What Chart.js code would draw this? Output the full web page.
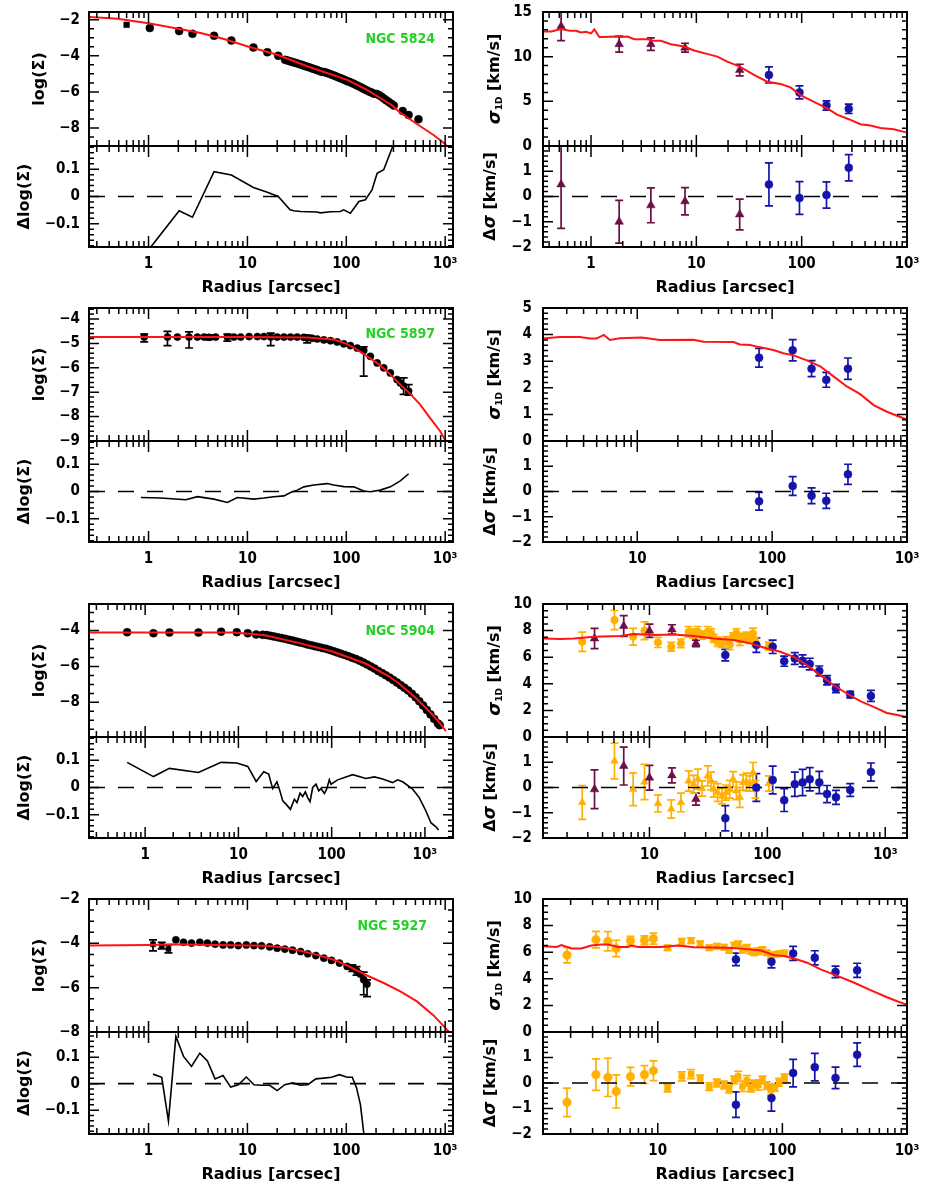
<!DOCTYPE html>
<html>
<head>
<meta charset="utf-8">
<title>Surface density and velocity dispersion profiles</title>
<script src="https://cdn.jsdelivr.net/npm/chart.js@4.4.1/dist/chart.umd.min.js"></script>
<style>
html, body { margin: 0; padding: 0; background: #ffffff; }
#fig { position: relative; width: 926px; height: 1201px; overflow: hidden; background: #ffffff; }
#fig canvas { position: absolute; }
</style>
</head>
<body>
<div id="fig"></div>
<script>
// ===================== DATA =====================
const xTickValues = [1, 10, 100, 1000];
const xTickLabels = ['1', '10', '100', '10\u00B3'];

// ---- NGC 5824 ----
const n5824_prof_r = [0.60,1.03,2.04,2.78,4.60,6.88,11.5,15.9,20.5,24.0,25.4,26.9,28.5,30.2,32.0,33.9,35.9,38.0,40.3,42.7,45.2,47.9,50.7,53.7,56.9,60.3,63.8,67.6,71.6,75.9,80.4,85.1,90.2,95.5,101,107,114,120,127,135,143,151,160,170,180,191,202,214,226,240,254,269,285,302,372,427,537];
const n5824_prof_v = [-2.28,-2.46,-2.63,-2.78,-2.89,-3.15,-3.54,-3.80,-4.00,-4.22,-4.26,-4.30,-4.34,-4.38,-4.42,-4.47,-4.51,-4.56,-4.60,-4.65,-4.70,-4.74,-4.79,-4.84,-4.89,-4.90,-4.95,-5.00,-5.05,-5.10,-5.16,-5.22,-5.27,-5.33,-5.39,-5.44,-5.50,-5.56,-5.63,-5.70,-5.77,-5.84,-5.91,-5.98,-6.04,-6.10,-6.11,-6.17,-6.26,-6.37,-6.47,-6.56,-6.66,-6.76,-7.06,-7.28,-7.52];
const n5824_model_r = [0.256,0.486,1.0,1.82,3.37,5.8,10.1,20.0,40.2,102,162,290,339,518,763,1000,1040];
const n5824_model_v = [-1.85,-1.94,-2.19,-2.46,-2.74,-3.07,-3.48,-3.94,-4.58,-5.33,-5.89,-6.74,-7.09,-7.78,-8.39,-8.89,-9.04];
const n5824_res_r = [0.60,1.03,2.04,2.78,4.60,6.88,11.5,15.9,20.5,27,29.5,34.5,50,55,69,87,94,110,134,156,182,205,239,290,320];
const n5824_res_v = [-0.29,-0.19,-0.052,-0.076,0.091,0.079,0.033,0.016,0.0,-0.049,-0.052,-0.055,-0.057,-0.060,-0.056,-0.055,-0.049,-0.061,-0.018,-0.012,0.024,0.085,0.098,0.177,0.25];
const n5824_sigA_r = [0.52,1.85,3.7,7.8,25.8];
const n5824_sigA_v = [13.4,11.4,11.4,11.0,8.5];
const n5824_sigA_e = [1.6,0.9,0.7,0.5,0.65];
const n5824_sigB_r = [48.9,95.3,172,280];
const n5824_sigB_v = [7.95,6.0,4.54,4.16];
const n5824_sigB_e = [0.9,0.73,0.52,0.52];
const n5824_sigmod_r = [0.35,0.418,0.52,0.623,0.721,0.804,0.897,1.0,1.076,1.20,1.34,1.66,1.92,2.22,2.57,3.44,3.98,4.60,5.72,7.66,9.5,13.7,15.8,19.7,25.8,35.3,47.2,63.1,78.5,97.6,121,151,175,217,280,361,449,559,747,1000];
const n5824_sigmod_v = [12.82,12.82,13.09,12.9,12.9,12.71,12.79,12.6,13.05,12.19,12.19,12.26,12.19,12.26,11.96,11.96,11.77,11.77,11.4,11.14,10.69,10.2,10.01,9.45,8.89,7.95,7.2,6.94,6.56,5.7,5.14,4.57,4.2,3.52,3.0,2.44,2.29,2.02,1.87,1.5];
const n5824_dsigA_v = [0.48,-1.0,-0.35,-0.19,-0.71];
const n5824_dsigA_e = [1.74,0.85,0.69,0.54,0.61];
const n5824_dsigB_v = [0.48,-0.06,0.06,1.14];
const n5824_dsigB_e = [0.85,0.65,0.52,0.52];

// ---- NGC 5897 ----
const n5897_prof_r = [0.904,1.555,1.96,2.57,3.12,3.65,4.09,4.78,6.27,7.31,8.55,10.4,12.6,14.7,17.2,20.0,23.4,27.3,31.9,37.2,40.2,45.2,50.8,59.3,69.2,80.7,94.3,110,129,150,175,205,239,279,326,352,380,427];
const n5897_prof_v = [-4.74,-4.74,-4.74,-4.74,-4.74,-4.74,-4.75,-4.74,-4.74,-4.74,-4.74,-4.72,-4.72,-4.72,-4.74,-4.74,-4.74,-4.74,-4.74,-4.75,-4.78,-4.79,-4.82,-4.86,-4.89,-4.94,-5.02,-5.09,-5.19,-5.29,-5.53,-5.80,-6.0,-6.21,-6.48,-6.62,-6.75,-6.96];
const n5897_prof_elo = [0.2,0.35,0,0.45,0,0,0.1,0,0.17,0,0,0,0,0,0.35,0,0,0,0,0,0.2,0,0,0,0,0,0,0,0,1.05,0,0,0,0,0,0,0.34,0.16];
const n5897_prof_ehi = [0.12,0.23,0,0.21,0,0,0.1,0,0.12,0,0,0,0,0,0.16,0,0,0,0,0,0.12,0,0,0,0,0,0,0,0,0.15,0,0,0,0,0,0,0.34,0.27];
const n5897_model_r = [0.25,10,40,74.4,101,128,163,204,258,350,443,557,701,887,1000,1100];
const n5897_model_v = [-4.74,-4.74,-4.76,-4.84,-5.02,-5.25,-5.53,-5.80,-6.14,-6.68,-7.07,-7.50,-8.05,-8.59,-8.96,-9.3];
const n5897_res_r = [0.837,1.33,2.38,3.12,4.6,6.27,7.91,11.6,14.7,18.5,23.4,27.3,31.9,37.2,47,64,74.7,94.3,119,150,175,221,279,352,427];
const n5897_res_v = [-0.022,-0.024,-0.030,-0.019,-0.028,-0.040,-0.022,-0.028,-0.024,-0.019,-0.016,-0.004,0.005,0.017,0.024,0.029,0.024,0.018,0.017,0.002,-0.001,0.005,0.017,0.039,0.065];
const n5897_sigB_r = [80,142,196,252,365];
const n5897_sigB_v = [3.13,3.41,2.72,2.30,2.72];
const n5897_sigB_e = [0.35,0.4,0.3,0.28,0.4];
const n5897_sigmod_r = [1.98,2.67,3.75,4.46,4.99,5.65,6.27,7.43,10.8,14.7,26.1,30.9,51.6,57.8,68.7,80.0,102,121,144,181,227,285,358,450,565,710,843,1000];
const n5897_sigmod_v = [3.85,3.91,3.91,3.85,3.85,3.99,3.80,3.86,3.89,3.80,3.81,3.73,3.72,3.63,3.61,3.53,3.42,3.30,3.22,3.03,2.81,2.43,2.05,1.76,1.35,1.10,0.95,0.81];
const n5897_dsigB_v = [-0.39,0.22,-0.17,-0.37,0.68];
const n5897_dsigB_e = [0.35,0.37,0.31,0.3,0.4];

// ---- NGC 5904 ----
const n5904_prof_r = [0.641,1.228,1.823,3.73,6.52,9.6,12.6,15.5,18.2,20.0,21.9,24.0,26.3,28.8,31.6,34.7,38.0,41.7,45.7,50.1,55.0,60.3,66.1,72.4,79.4,87.1,95.5,105,115,126,138,151,166,182,200,219,240,263,288,316,347,380,417,457,501,550,603,661,724,794,871,955,1047,1148,1259,1380,1440];
const n5904_prof_v = [-4.09,-4.15,-4.11,-4.11,-4.06,-4.09,-4.15,-4.22,-4.24,-4.25,-4.29,-4.33,-4.37,-4.42,-4.46,-4.51,-4.56,-4.61,-4.66,-4.71,-4.77,-4.82,-4.87,-4.92,-4.97,-5.02,-5.08,-5.15,-5.22,-5.29,-5.36,-5.43,-5.51,-5.59,-5.68,-5.78,-5.89,-6.00,-6.12,-6.25,-6.37,-6.49,-6.62,-6.75,-6.89,-7.04,-7.19,-7.34,-7.52,-7.72,-7.94,-8.17,-8.42,-8.67,-8.93,-9.18,-9.27];
const n5904_model_r = [0.25,8.7,14.3,19.8,45.1,102,233,415,531,801,1208,1425,1679];
const n5904_model_v = [-4.11,-4.11,-4.19,-4.28,-4.70,-5.17,-5.85,-6.56,-6.96,-7.76,-8.69,-9.11,-9.61];
const n5904_res_r = [0.641,1.228,1.823,3.73,6.52,9.6,12.6,15.5,18.7,21.1,23.3,25.9,27.5,29.9,32.4,36.1,39.8,42.5,45.8,48.9,52.2,55.3,58.6,62.6,68,72.6,76.9,83.5,88.3,94.4,98.4,116,168,233,287,352,450,509,577,738,869,1025,1159,1312,1400];
const n5904_res_v = [0.092,0.040,0.070,0.055,0.092,0.090,0.077,0.022,0.058,0.049,-0.004,0.021,-0.006,-0.049,-0.061,-0.080,-0.043,-0.055,-0.021,-0.033,-0.016,-0.037,-0.052,0.0,0.012,-0.012,-0.004,-0.022,-0.006,0.028,0.012,0.028,0.047,0.033,0.039,0.031,0.018,0.028,0.021,-0.006,-0.037,-0.086,-0.129,-0.144,-0.156];
const n5904_sigA_r = [3.42,6.05,10,15.5,24.8];
const n5904_sigA_v = [7.41,8.34,7.99,8.09,7.04];
const n5904_sigA_e = [0.76,0.78,0.5,0.35,0.25];
const n5904_sigC_r = [2.69,5.05,7.27,9.08,11.8,15.3,18.5,21.5,23.7,25.7,27.9,31.2,33.3,35.1,37.9,41.3,44.7,48,51.2,54.6,58.3,62.2,66.4,70.8,75.6,79.1,103];
const n5904_sigC_v = [7.16,8.79,7.54,7.99,7.11,6.78,7.04,7.91,7.79,7.91,7.66,7.91,7.80,7.41,7.16,7.04,7.24,6.91,7.54,7.79,7.29,7.49,7.54,7.34,7.79,7.16,6.83];
const n5904_sigC_e = [0.72,0.72,0.63,0.67,0.38,0.33,0.33,0.4,0.35,0.4,0.3,0.4,0.35,0.3,0.35,0.3,0.3,0.35,0.3,0.35,0.4,0.3,0.35,0.3,0.4,0.35,0.3];
const n5904_sigB_r = [44,80.7,111,139,171,199,229,276,321,382,505,756];
const n5904_sigB_v = [6.16,6.91,6.78,5.70,5.90,5.73,5.48,4.97,4.27,3.64,3.19,3.09];
const n5904_sigB_e = [0.43,0.54,0.5,0.38,0.44,0.45,0.44,0.37,0.35,0.31,0.25,0.41];
const n5904_sigmod_r = [1.25,1.76,2.29,3.37,5.68,7.36,10.9,16.1,23.7,35.1,51.9,71.8,99.3,129,167,217,281,365,473,614,796,1033,1177,1528];
const n5904_sigmod_v = [7.41,7.36,7.41,7.54,7.59,7.74,7.66,7.71,7.59,7.41,7.29,7.04,6.66,6.41,6.03,5.40,4.65,3.89,3.27,2.69,2.26,1.81,1.71,1.51];
const n5904_dsigA_v = [-0.07,0.85,0.39,0.48,-0.46];
const n5904_dsigA_e = [0.77,0.75,0.49,0.3,0.24];
const n5904_dsigC_v = [-0.59,1.05,-0.07,0.22,-0.63,-0.85,-0.59,0.26,0.13,0.33,-0.04,0.46,0.26,-0.07,-0.2,-0.35,-0.2,-0.07,0.33,-0.13,-0.39,0.2,0.22,0.16,0.59,-0.07,0.16];
const n5904_dsigC_e = [0.67,0.71,0.65,0.7,0.34,0.36,0.37,0.4,0.35,0.4,0.3,0.4,0.35,0.3,0.35,0.3,0.3,0.35,0.3,0.35,0.4,0.3,0.35,0.3,0.4,0.35,0.3];
const n5904_dsigB_v = [-1.22,0.0,0.3,-0.5,0.13,0.2,0.33,0.2,-0.26,-0.39,-0.1,0.61];
const n5904_dsigB_e = [0.5,0.55,0.55,0.45,0.48,0.52,0.46,0.44,0.34,0.28,0.25,0.36];

// ---- NGC 5927 ----
const n5927_prof_r = [1.11,1.36,1.59,1.89,2.26,2.72,3.30,3.94,4.71,5.67,6.77,8.09,9.75,11.65,13.9,16.8,20.0,23.9,28.6,34.5,40.8,49.2,59.3,70.8,85.3,102,115,127,139,150,162];
const n5927_prof_v = [-4.04,-4.10,-4.25,-3.84,-3.95,-3.99,-3.95,-3.99,-4.04,-4.07,-4.07,-4.10,-4.07,-4.10,-4.11,-4.16,-4.22,-4.26,-4.31,-4.37,-4.47,-4.55,-4.67,-4.77,-4.89,-5.04,-5.12,-5.24,-5.39,-5.64,-5.84];
const n5927_prof_elo = [0.3,0.15,0.18,0,0,0,0,0,0,0,0,0,0,0,0,0,0,0,0,0,0,0,0,0,0,0,0.15,0.19,0,0.68,0.56];
const n5927_prof_ehi = [0.2,0.15,0.18,0,0,0,0,0,0,0,0,0,0,0,0,0,0,0,0,0,0,0,0,0,0,0,0.15,0.19,0,0.34,0.19];
const n5927_model_r = [0.25,1.0,1.82,4.6,15.9,23.4,34.5,50.8,74.8,102,139,162,239,352,518,763,1081,1150];
const n5927_model_v = [-4.10,-4.07,-4.04,-4.07,-4.11,-4.19,-4.34,-4.52,-4.74,-5.0,-5.30,-5.45,-5.79,-6.17,-6.62,-7.25,-7.97,-8.2];
const n5927_res_r = [1.11,1.36,1.59,1.89,2.26,2.72,3.30,3.94,4.71,5.67,6.77,8.09,9.75,11.65,13.9,16.8,20.0,23.9,28.6,34.5,40.8,49.2,59.3,70.8,85.3,102,115,127,139,150,165];
const n5927_res_v = [0.036,0.024,-0.141,0.178,0.103,0.065,0.115,0.086,0.018,0.031,-0.013,-0.004,0.025,-0.004,-0.006,-0.006,-0.026,-0.004,0.003,-0.006,-0.004,0.018,0.021,0.024,0.034,0.024,0.024,-0.016,-0.079,-0.185,-0.35];
const n5927_sigC_r = [1.87,3.19,3.98,4.64,6.04,7.82,9.23,12.0,15.6,18.5,21.9,25.9,29.8,34.1,37.4,41,44.2,47.9,51.9,55.8,59.3,64.3,69.2,75,80.7,86.9,94,104];
const n5927_sigC_v = [5.78,6.95,6.82,6.28,6.87,6.90,7.02,6.33,6.77,6.87,6.63,6.33,6.45,6.38,6.13,6.53,6.58,6.20,6.33,6.08,5.96,6.08,6.20,5.96,5.71,5.83,5.88,5.93];
const n5927_sigC_e = [0.58,0.62,0.72,0.62,0.33,0.33,0.41,0.2,0.25,0.2,0.2,0.2,0.2,0.2,0.2,0.2,0.25,0.25,0.25,0.2,0.2,0.25,0.2,0.2,0.25,0.2,0.2,0.2];
const n5927_sigB_r = [42.4,81.7,122,182,267,398];
const n5927_sigB_v = [5.46,5.29,5.91,5.58,4.52,4.64];
const n5927_sigB_e = [0.47,0.47,0.53,0.53,0.43,0.53];
const n5927_sigmod_r = [1.22,1.54,1.69,2.03,2.44,2.93,3.52,3.98,4.79,5.75,6.12,6.92,10.6,14.5,19.6,36.3,49.3,67.1,85.8,103,124,158,203,276,374,509,692,832,1000];
const n5927_sigmod_v = [6.45,6.40,6.53,6.28,6.28,6.50,6.58,6.58,6.40,6.40,6.50,6.40,6.40,6.50,6.38,6.33,6.25,6.13,5.78,5.71,5.53,5.21,4.71,4.22,3.72,3.15,2.61,2.31,2.06];
const n5927_dsigC_v = [-0.76,0.33,0.22,-0.33,0.25,0.33,0.48,-0.2,0.26,0.35,0.16,-0.14,0.0,-0.08,-0.24,0.12,0.26,-0.13,0.09,-0.2,-0.04,-0.08,0.12,-0.1,-0.28,-0.17,0.03,0.2];
const n5927_dsigC_e = [0.56,0.62,0.75,0.65,0.36,0.35,0.39,0.15,0.18,0.18,0.15,0.15,0.15,0.15,0.15,0.15,0.2,0.2,0.2,0.15,0.15,0.2,0.15,0.15,0.2,0.15,0.15,0.15];
const n5927_dsigB_v = [-0.85,-0.59,0.39,0.62,0.2,1.11];
const n5927_dsigB_e = [0.5,0.51,0.54,0.54,0.42,0.46];

// ===================== STYLE / LAYOUT =====================
const FAM_C = "'DejaVu Sans Condensed', 'DejaVu Sans', sans-serif";
const FAM = "'DejaVu Sans', sans-serif";
const TICK_FONT = {family: FAM_C, size: 15, weight: 'bold'};
const TITLE_FONT = {family: FAM, size: 16, weight: 'bold'};
const C_RED = '#ff1414', C_BLACK = '#000000', C_BLUE = '#1414aa', C_MAROON = '#6b0f46', C_ORANGE = '#ffb000', C_GREEN = '#25d025';

const COLS = [{left: 0, boxL: 89, boxR: 453}, {left: 463, boxL: 543, boxR: 907}];
const ROWS = [{T: 12, D: 146, B: 247}, {T: 308, D: 441, B: 542}, {T: 604, D: 737, B: 838}, {T: 899, D: 1032, B: 1134}];
const PAD = 26, PAD_R = 32, XAXIS_H = 60;

const SIG_TITLE = {x: 32, parts: [
  {text: '\u03C3', font: 'italic bold 18px ' + FAM, dy: 0},
  {text: '1D', font: 'bold 9px ' + FAM, dy: 5},
  {text: ' [km/s]', font: 'bold 16px ' + FAM, dy: 0}]};
const DSIG_TITLE = {x: 28, parts: [
  {text: '\u0394', font: 'bold 16px ' + FAM, dy: 0},
  {text: '\u03C3', font: 'italic bold 17px ' + FAM, dy: 0},
  {text: ' [km/s]', font: 'bold 16px ' + FAM, dy: 0}]};

function pts(r, v) { return r.map((x, i) => ({x: x, y: v[i]})); }
function curve(r, v, color, width, dash) {
  return {data: pts(r, v), showLine: true, borderColor: color, backgroundColor: color, borderWidth: width,
          borderDash: dash || [], pointRadius: 0, pointHoverRadius: 0, fill: false, tension: 0, clip: 1};
}
function marks(r, v, color, style, radius, eLo, eHi) {
  return {data: pts(r, v), showLine: false, pointStyle: style, pointRadius: radius, pointHoverRadius: radius,
          pointBackgroundColor: color, pointBorderColor: color, pointBorderWidth: 0.5,
          backgroundColor: color, borderColor: color, errColor: color,
          errLo: eLo || null, errHi: eHi || eLo || null};
}
function zero(xr) { return curve(xr, [0, 0], '#000000', 1.6, [16, 13]); }
function fmtTick(v) {
  const s = String(Math.round(Math.abs(v) * 1000) / 1000);
  return (v < 0 ? '\u2212' : '') + s;
}

function drawErrorBars(chart) {
  const ctx = chart.ctx, a = chart.chartArea, ys = chart.scales.y;
  ctx.save();
  ctx.beginPath(); ctx.rect(a.left, a.top, a.right - a.left, a.bottom - a.top); ctx.clip();
  chart.data.datasets.forEach((ds, i) => {
    if (!ds.errLo) return;
    const meta = chart.getDatasetMeta(i);
    ctx.strokeStyle = ds.errColor; ctx.lineWidth = 1.7;
    ctx.beginPath();
    meta.data.forEach((el, j) => {
      const lo = ds.errLo[j] || 0, hi = ds.errHi[j] || 0;
      if (!lo && !hi) return;
      const yv = ds.data[j].y, px = el.x;
      const y1 = ys.getPixelForValue(yv + hi), y2 = ys.getPixelForValue(yv - lo);
      ctx.moveTo(px, y1); ctx.lineTo(px, y2);
      ctx.moveTo(px - 4, y1); ctx.lineTo(px + 4, y1);
      ctx.moveTo(px - 4, y2); ctx.lineTo(px + 4, y2);
    });
    ctx.stroke();
  });
  ctx.restore();
}

function drawFrame(chart, p) {
  const ctx = chart.ctx, a = chart.chartArea, xs = chart.scales.x, ys = chart.scales.y;
  ctx.save();
  ctx.strokeStyle = '#000'; ctx.lineWidth = 1.5; ctx.beginPath();
  const e0 = Math.floor(Math.log10(xs.min)), e1 = Math.ceil(Math.log10(xs.max));
  for (let e = e0; e <= e1; e++) {
    for (let k = 1; k <= 9; k++) {
      const v = k * Math.pow(10, e);
      if (v < xs.min || v > xs.max) continue;
      const px = xs.getPixelForValue(v);
      const len = k === 1 ? 11 : 6;
      ctx.moveTo(px, a.top); ctx.lineTo(px, a.top + len);
      ctx.moveTo(px, a.bottom); ctx.lineTo(px, a.bottom - len);
    }
  }
  const n0 = Math.ceil(ys.min / p.yMinor - 1e-6), n1 = Math.floor(ys.max / p.yMinor + 1e-6);
  const ratio = Math.round(p.yMajor / p.yMinor);
  for (let n = n0; n <= n1; n++) {
    const py = ys.getPixelForValue(n * p.yMinor);
    const len = (n % ratio === 0) ? 10 : 5;
    ctx.moveTo(a.left, py); ctx.lineTo(a.left + len, py);
    ctx.moveTo(a.right, py); ctx.lineTo(a.right - len, py);
  }
  ctx.stroke();
  ctx.lineWidth = 2;
  ctx.strokeRect(a.left, a.top, a.right - a.left, a.bottom - a.top);
  ctx.restore();
}

function drawTag(chart, t) {
  const ctx = chart.ctx, a = chart.chartArea;
  ctx.save();
  ctx.fillStyle = C_GREEN; ctx.font = 'bold 14px ' + FAM_C;
  ctx.textAlign = 'right'; ctx.textBaseline = 'middle';
  ctx.fillText(t.text, a.right - t.dx, a.top + t.dy);
  ctx.restore();
}

function drawRichTitle(chart, rt) {
  const ctx = chart.ctx, a = chart.chartArea;
  ctx.save();
  ctx.translate(rt.x, (a.top + a.bottom) / 2);
  ctx.rotate(-Math.PI / 2);
  ctx.fillStyle = '#000'; ctx.textBaseline = 'middle'; ctx.textAlign = 'left';
  const widths = rt.parts.map(pt => { ctx.font = pt.font; return ctx.measureText(pt.text).width; });
  let x = -widths.reduce((s, w) => s + w, 0) / 2;
  rt.parts.forEach((pt, i) => { ctx.font = pt.font; ctx.fillText(pt.text, x, pt.dy); x += widths[i]; });
  ctx.restore();
}

function makeDecor(p) {
  return {
    id: 'decor',
    beforeDatasetsDraw(chart) { drawErrorBars(chart); },
    afterDraw(chart) {
      drawFrame(chart, p);
      if (p.tag) drawTag(chart, p.tag);
      if (p.richTitle) drawRichTitle(chart, p.richTitle);
    }
  };
}

function buildPanel(p) {
  const C = COLS[p.col], R = ROWS[p.row];
  const isMain = p.kind === 'main';
  const W = C.boxR - C.left + PAD_R;
  const top = isMain ? R.T - PAD : R.D - PAD;
  const H = isMain ? (R.D - R.T + 2 * PAD) : (R.B - R.D + PAD + XAXIS_H);
  const cv = document.createElement('canvas');
  cv.width = W; cv.height = H;
  cv.style.left = C.left + 'px'; cv.style.top = top + 'px';
  cv.style.width = W + 'px'; cv.style.height = H + 'px';
  document.getElementById('fig').appendChild(cv);
  const yw = C.boxL - C.left;
  return new Chart(cv.getContext('2d'), {
    type: 'scatter',
    data: {datasets: p.datasets},
    options: {
      responsive: false, maintainAspectRatio: false, animation: false, devicePixelRatio: 1, events: [],
      layout: {autoPadding: false, padding: {left: 0, right: PAD_R, top: PAD, bottom: isMain ? PAD : 0}},
      plugins: {legend: {display: false}, tooltip: {enabled: false}, title: {display: false}},
      scales: {
        x: {
          type: 'logarithmic', min: p.xr[0], max: p.xr[1], bounds: 'data', display: !isMain,
          grid: {display: false, drawTicks: false}, border: {display: false},
          afterBuildTicks: s => { s.ticks = xTickValues.filter(v => v >= s.min && v <= s.max).map(v => ({value: v})); },
          afterFit: s => { s.height = isMain ? 0 : XAXIS_H; },
          ticks: {autoSkip: false, maxRotation: 0, minRotation: 0, padding: 8, font: TICK_FONT, color: '#000',
                  callback: v => { const k = xTickValues.indexOf(v); return k >= 0 ? xTickLabels[k] : ''; }},
          title: {display: !isMain, text: 'Radius [arcsec]', font: TITLE_FONT, color: '#000', padding: {top: 0, bottom: 10}}
        },
        y: {
          type: 'linear', min: p.yr[0], max: p.yr[1], bounds: 'data',
          grid: {display: false, drawTicks: false}, border: {display: false},
          afterBuildTicks: s => { s.ticks = p.yTicks.map(v => ({value: v})); },
          afterFit: s => { s.width = yw; },
          ticks: {padding: p.col ? 11 : 9, font: TICK_FONT, color: '#000', callback: v => fmtTick(v)},
          title: {display: !!p.yTitle, text: p.yTitle || '', font: TITLE_FONT, color: '#000',
                  padding: {top: Math.max(0, (p.yTitleX || 0) - 9.6), bottom: 0}}
        }
      }
    },
    plugins: [makeDecor(p)]
  });
}

// ===================== PANELS =====================
const LXR = [0.25, 1200], LXR3 = [0.25, 2000];
const LRES = [-0.185, 0.185], LRES4 = [-0.19, 0.195];
const RRES = [-2, 2];
const L_MAIN_TITLE = 'log(\u03A3)', L_RES_TITLE = '\u0394log(\u03A3)';
const shapes = (r, nRect) => r.map((_, i) => i < nRect ? 'rect' : 'circle');
const shapes5927 = n5927_sigC_r.map((_, i) => i < 7 ? 'circle' : 'rect');

const PANELS = [
  // NGC 5824
  {col: 0, row: 0, kind: 'main', xr: LXR, yr: [-9, -1.57], yTicks: [-2, -4, -6, -8], yMajor: 2, yMinor: 0.5,
   yTitle: L_MAIN_TITLE, yTitleX: 39.5, tag: {text: 'NGC 5824', dx: 18, dy: 27},
   datasets: [curve(n5824_model_r, n5824_model_v, C_RED, 2),
              marks(n5824_prof_r, n5824_prof_v, C_BLACK, shapes(n5824_prof_r, 1), 4)]},
  {col: 0, row: 0, kind: 'res', xr: LXR, yr: LRES, yTicks: [0.1, 0, -0.1], yMajor: 0.1, yMinor: 0.02,
   yTitle: L_RES_TITLE, yTitleX: 25,
   datasets: [curve(n5824_res_r, n5824_res_v, C_BLACK, 1.6), zero(LXR)]},
  {col: 1, row: 0, kind: 'main', xr: [0.35, 1000], yr: [0, 15], yTicks: [0, 5, 10, 15], yMajor: 5, yMinor: 1,
   richTitle: SIG_TITLE,
   datasets: [curve(n5824_sigmod_r, n5824_sigmod_v, C_RED, 2),
              marks(n5824_sigA_r, n5824_sigA_v, C_MAROON, 'triangle', 5, n5824_sigA_e),
              marks(n5824_sigB_r, n5824_sigB_v, C_BLUE, 'circle', 4, n5824_sigB_e)]},
  {col: 1, row: 0, kind: 'res', xr: [0.35, 1000], yr: RRES, yTicks: [-2, -1, 0, 1], yMajor: 1, yMinor: 0.2,
   richTitle: DSIG_TITLE,
   datasets: [marks(n5824_sigA_r, n5824_dsigA_v, C_MAROON, 'triangle', 5, n5824_dsigA_e),
              marks(n5824_sigB_r, n5824_dsigB_v, C_BLUE, 'circle', 4, n5824_dsigB_e),
              zero([0.35, 1000])]},
  // NGC 5897
  {col: 0, row: 1, kind: 'main', xr: LXR, yr: [-9, -3.55], yTicks: [-4, -5, -6, -7, -8, -9], yMajor: 1, yMinor: 0.2,
   yTitle: L_MAIN_TITLE, yTitleX: 39.5, tag: {text: 'NGC 5897', dx: 18, dy: 26},
   datasets: [curve(n5897_model_r, n5897_model_v, C_RED, 2),
              marks(n5897_prof_r, n5897_prof_v, C_BLACK, 'circle', 3.6, n5897_prof_elo, n5897_prof_ehi)]},
  {col: 0, row: 1, kind: 'res', xr: LXR, yr: LRES, yTicks: [0.1, 0, -0.1], yMajor: 0.1, yMinor: 0.02,
   yTitle: L_RES_TITLE, yTitleX: 25,
   datasets: [curve(n5897_res_r, n5897_res_v, C_BLACK, 1.6), zero(LXR)]},
  {col: 1, row: 1, kind: 'main', xr: [2, 1000], yr: [0, 5], yTicks: [0, 1, 2, 3, 4, 5], yMajor: 1, yMinor: 0.2,
   richTitle: SIG_TITLE,
   datasets: [curve(n5897_sigmod_r, n5897_sigmod_v, C_RED, 2),
              marks(n5897_sigB_r, n5897_sigB_v, C_BLUE, 'circle', 4, n5897_sigB_e)]},
  {col: 1, row: 1, kind: 'res', xr: [2, 1000], yr: RRES, yTicks: [-2, -1, 0, 1], yMajor: 1, yMinor: 0.2,
   richTitle: DSIG_TITLE,
   datasets: [marks(n5897_sigB_r, n5897_dsigB_v, C_BLUE, 'circle', 4, n5897_dsigB_e), zero([2, 1000])]},
  // NGC 5904
  {col: 0, row: 2, kind: 'main', xr: LXR3, yr: [-9.93, -2.52], yTicks: [-4, -6, -8], yMajor: 2, yMinor: 0.5,
   yTitle: L_MAIN_TITLE, yTitleX: 39.5, tag: {text: 'NGC 5904', dx: 18, dy: 27},
   datasets: [curve(n5904_model_r, n5904_model_v, C_RED, 2),
              marks(n5904_prof_r, n5904_prof_v, C_BLACK, 'circle', 4)]},
  {col: 0, row: 2, kind: 'res', xr: LXR3, yr: LRES, yTicks: [0.1, 0, -0.1], yMajor: 0.1, yMinor: 0.02,
   yTitle: L_RES_TITLE, yTitleX: 25,
   datasets: [curve(n5904_res_r, n5904_res_v, C_BLACK, 1.6), zero(LXR3)]},
  {col: 1, row: 2, kind: 'main', xr: [1.25, 1530], yr: [0, 10], yTicks: [0, 2, 4, 6, 8, 10], yMajor: 2, yMinor: 0.5,
   richTitle: SIG_TITLE,
   datasets: [curve(n5904_sigmod_r, n5904_sigmod_v, C_RED, 2),
              marks(n5904_sigA_r, n5904_sigA_v, C_MAROON, 'triangle', 5, n5904_sigA_e),
              marks(n5904_sigB_r, n5904_sigB_v, C_BLUE, 'circle', 4, n5904_sigB_e),
              marks(n5904_sigC_r, n5904_sigC_v, C_ORANGE, 'circle', 3.8, n5904_sigC_e)]},
  {col: 1, row: 2, kind: 'res', xr: [1.25, 1530], yr: RRES, yTicks: [-2, -1, 0, 1], yMajor: 1, yMinor: 0.2,
   richTitle: DSIG_TITLE,
   datasets: [marks(n5904_sigA_r, n5904_dsigA_v, C_MAROON, 'triangle', 5, n5904_dsigA_e),
              marks(n5904_sigB_r, n5904_dsigB_v, C_BLUE, 'circle', 4, n5904_dsigB_e),
              marks(n5904_sigC_r, n5904_dsigC_v, C_ORANGE, 'triangle', 4.5, n5904_dsigC_e),
              zero([1.25, 1530])]},
  // NGC 5927
  {col: 0, row: 3, kind: 'main', xr: LXR, yr: [-8, -2], yTicks: [-2, -4, -6, -8], yMajor: 2, yMinor: 0.5,
   yTitle: L_MAIN_TITLE, yTitleX: 39.5, tag: {text: 'NGC 5927', dx: 26, dy: 27},
   datasets: [curve(n5927_model_r, n5927_model_v, C_RED, 2),
              marks(n5927_prof_r, n5927_prof_v, C_BLACK, shapes(n5927_prof_r, 3), 3.6, n5927_prof_elo, n5927_prof_ehi)]},
  {col: 0, row: 3, kind: 'res', xr: LXR, yr: LRES4, yTicks: [0.1, 0, -0.1], yMajor: 0.1, yMinor: 0.02,
   yTitle: L_RES_TITLE, yTitleX: 25,
   datasets: [curve(n5927_res_r, n5927_res_v, C_BLACK, 1.6), zero(LXR)]},
  {col: 1, row: 3, kind: 'main', xr: [1.2, 1000], yr: [0, 10], yTicks: [0, 2, 4, 6, 8, 10], yMajor: 2, yMinor: 0.5,
   richTitle: SIG_TITLE,
   datasets: [curve(n5927_sigmod_r, n5927_sigmod_v, C_RED, 2),
              marks(n5927_sigB_r, n5927_sigB_v, C_BLUE, 'circle', 4, n5927_sigB_e),
              marks(n5927_sigC_r, n5927_sigC_v, C_ORANGE, shapes5927, 4.3, n5927_sigC_e)]},
  {col: 1, row: 3, kind: 'res', xr: [1.2, 1000], yr: RRES, yTicks: [-2, -1, 0, 1], yMajor: 1, yMinor: 0.2,
   richTitle: DSIG_TITLE,
   datasets: [marks(n5927_sigB_r, n5927_dsigB_v, C_BLUE, 'circle', 4, n5927_dsigB_e),
              marks(n5927_sigC_r, n5927_dsigC_v, C_ORANGE, shapes5927, 4.3, n5927_dsigC_e),
              zero([1.2, 1000])]}
];

PANELS.forEach(buildPanel);
</script>
</body>
</html>
